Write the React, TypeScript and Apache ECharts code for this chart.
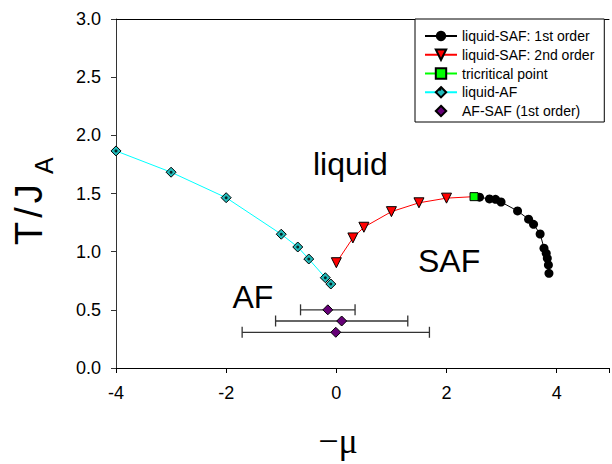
import React, { useEffect, useRef } from "react";
import * as echarts from "echarts";

// liquid-SAF: 1st order (black circles)
const saf1X = [2.6, 2.78, 2.89, 2.99, 3.29, 3.49, 3.58, 3.7, 3.77, 3.81, 3.83, 3.85, 3.86];
const saf1Y = [1.468, 1.453, 1.45, 1.427, 1.35, 1.279, 1.235, 1.152, 1.03, 0.986, 0.943, 0.886, 0.814];
// liquid-SAF: 2nd order (red triangles)
const saf2X = [0, 0.3, 0.5, 1.0, 1.5, 2.0];
const saf2Y = [0.905, 1.118, 1.21, 1.344, 1.42, 1.46];
// tricritical point
const triX = [2.5];
const triY = [1.473];
// liquid-AF (cyan diamonds)
const afLiqX = [-4, -3, -2, -1, -0.7, -0.5, -0.2, -0.1];
const afLiqY = [1.866, 1.683, 1.464, 1.15, 1.04, 0.937, 0.776, 0.722];
// AF-SAF (1st order) with horizontal error bars
const afSafX = [-0.155, 0.097, -0.01];
const afSafY = [0.5, 0.404, 0.307];
const afSafErr = [0.495, 1.2, 1.7];

const xTicks = [-4, -2, 0, 2, 4];
const yTicks = [0, 0.5, 1, 1.5, 2, 2.5, 3];

const FONT = "'Liberation Sans', Arial, sans-serif";

export default function App() {
  const ref = useRef<HTMLDivElement>(null);
  useEffect(() => {
    if (!ref.current) return;
    const chart = echarts.init(ref.current, null, { renderer: "svg" });
    const triPts = triX.map((x, i) => [x, triY[i]]);
    const option: any = {
      animation: false,
      backgroundColor: "#fff",
      grid: { left: 116, top: 19, right: 0, bottom: 96, containLabel: false },
      xAxis: [
        {
          type: "value",
          min: xTicks[0],
          max: 4.95,
          interval: 2,
          axisLine: { show: true, onZero: false, lineStyle: { color: "#000", width: 1 } },
          axisTick: { show: true, inside: false, length: 5, lineStyle: { color: "#000" } },
          axisLabel: {
            fontSize: 18,
            fontFamily: FONT,
            color: "#000",
            margin: 16,
            formatter: (v: number) => (xTicks.indexOf(v) >= 0 ? String(v) : ""),
          },
          splitLine: { show: false },
        },
        {
          type: "value",
          position: "top",
          min: xTicks[0],
          max: 4.95,
          interval: 2,
          axisLine: { show: true, onZero: false, lineStyle: { color: "#000", width: 1 } },
          axisTick: { show: false },
          axisLabel: { show: false },
          splitLine: { show: false },
        },
      ],
      yAxis: {
        type: "value",
        min: yTicks[0],
        max: yTicks[yTicks.length - 1],
        interval: 0.5,
        axisLine: { show: true, onZero: false, lineStyle: { color: "#333", width: 1 } },
        axisTick: { show: true, inside: false, length: 5, lineStyle: { color: "#333" } },
        axisLabel: {
          fontSize: 18,
          fontFamily: FONT,
          color: "#000",
          margin: 15,
          formatter: (v: number) => v.toFixed(1),
        },
        splitLine: { show: false },
      },
      legend: {
        orient: "vertical",
        left: 415,
        top: 19,
        itemWidth: 32,
        itemHeight: 13,
        itemGap: 4.75,
        padding: [10, 10, 4, 9],
        borderColor: "#000",
        borderWidth: 1,
        backgroundColor: "#fff",
        textStyle: { fontSize: 14, fontFamily: FONT, color: "#000" },
        data: [
          "liquid-SAF: 1st order",
          "liquid-SAF: 2nd order",
          "tricritical point",
          "liquid-AF",
          "AF-SAF (1st order)",
        ],
      },
      series: [
        {
          name: "liquid-SAF: 1st order",
          type: "line",
          data: [
            ...triPts.map((p) => ({ value: p, symbol: "none" })),
            ...saf1X.map((x, i) => [x, saf1Y[i]]),
          ],
          symbol: "circle",
          symbolSize: 9,
          itemStyle: { color: "#000" },
          lineStyle: { color: "#000", width: 1 },
          z: 3,
        },
        {
          name: "liquid-SAF: 2nd order",
          type: "line",
          data: [
            ...saf2X.map((x, i) => [x, saf2Y[i]]),
            ...triPts.map((p) => ({ value: p, symbol: "none" })),
          ],
          symbol: "triangle",
          symbolRotate: 180,
          symbolSize: 10,
          itemStyle: { color: "#ff0000", borderColor: "#000", borderWidth: 1 },
          lineStyle: { color: "#ff0000", width: 1 },
          z: 3,
        },
        {
          name: "tricritical point",
          type: "line",
          data: triPts,
          symbol: "rect",
          symbolSize: 8,
          itemStyle: { color: "#00ff00", borderColor: "#000", borderWidth: 1 },
          lineStyle: { color: "#00ff00", width: 1 },
          z: 5,
        },
        {
          name: "liquid-AF",
          type: "line",
          data: afLiqX.map((x, i) => [x, afLiqY[i]]),
          symbol: "diamond",
          symbolSize: 10,
          itemStyle: { color: "#22bbbb", borderColor: "#000", borderWidth: 1 },
          lineStyle: { color: "#00ffff", width: 1 },
          z: 3,
        },
        {
          name: "liquid-AF dots",
          type: "scatter",
          data: afLiqX.map((x, i) => [x, afLiqY[i]]),
          symbol: "circle",
          symbolSize: 3,
          itemStyle: { color: "#000" },
          z: 4,
          silent: true,
        },
        {
          name: "AF-SAF errors",
          type: "custom",
          data: afSafX.map((x, i) => [x, afSafY[i], afSafErr[i]]),
          encode: { x: 0, y: 1 },
          z: 2,
          renderItem: (params: any, api: any) => {
            const x = api.value(0);
            const y = api.value(1);
            const e = api.value(2);
            const l = api.coord([x - e, y]);
            const r = api.coord([x + e, y]);
            const h = 5.5;
            const st = { stroke: "#333", lineWidth: 1.3 };
            return {
              type: "group",
              children: [
                { type: "line", shape: { x1: l[0], y1: l[1], x2: r[0], y2: r[1] }, style: st },
                { type: "line", shape: { x1: l[0], y1: l[1] - h, x2: l[0], y2: l[1] + h }, style: st },
                { type: "line", shape: { x1: r[0], y1: r[1] - h, x2: r[0], y2: r[1] + h }, style: st },
              ],
            };
          },
        },
        {
          name: "AF-SAF (1st order)",
          type: "line",
          data: afSafX.map((x, i) => [x, afSafY[i]]),
          symbol: "diamond",
          symbolSize: 10,
          itemStyle: { color: "#660077", borderColor: "#000", borderWidth: 1 },
          lineStyle: { width: 0, opacity: 0 },
          z: 4,
        },
      ],
      graphic: [
        {
          type: "text",
          x: 313,
          y: 163.5,
          style: { text: "liquid", font: `32px ${FONT}`, fill: "#000", align: "left", verticalAlign: "middle" },
        },
        {
          type: "text",
          x: 418,
          y: 261,
          style: { text: "SAF", font: `32px ${FONT}`, fill: "#000", align: "left", verticalAlign: "middle" },
        },
        {
          type: "text",
          x: 232.5,
          y: 296.7,
          style: { text: "AF", font: `32px ${FONT}`, fill: "#000", align: "left", verticalAlign: "middle" },
        },
        {
          type: "text",
          x: 28.5,
          y: 245,
          rotation: Math.PI / 2,
          style: {
            text: "{t|T}{s|/}{t|J}",
            align: "left",
            verticalAlign: "middle",
            rich: {
              t: { fontSize: 38, fontFamily: FONT, fill: "#000" },
              s: { fontSize: 38, fontFamily: FONT, fill: "#000", padding: [0, 4, 0, 4] },
            },
          },
        },
        {
          type: "text",
          x: 44,
          y: 174,
          rotation: Math.PI / 2,
          style: { text: "A", font: `25px ${FONT}`, fill: "#000", align: "left", verticalAlign: "middle" },
        },
        {
          type: "text",
          x: 338,
          y: 441,
          style: {
            text: "\u2212\u03bc",
            font: `36px 'Liberation Serif', 'Times New Roman', serif`,
            fill: "#000",
            align: "center",
            verticalAlign: "middle",
          },
        },
        {
          type: "circle",
          shape: { cx: 440, cy: 89.3, r: 1.5 },
          style: { fill: "#000" },
          z: 100,
        },
      ],
    };
    chart.setOption(option);
    return () => chart.dispose();
  }, []);
  return (
    <div
      ref={ref}
      style={{ position: "absolute", left: 0, top: 0, width: 612, height: 464 }}
    />
  );
}
